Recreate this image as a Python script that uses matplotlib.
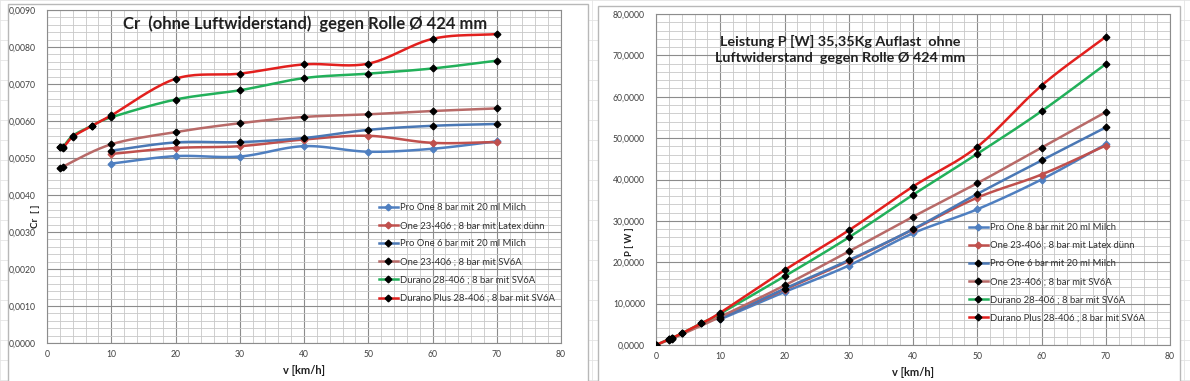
import numpy as np
import matplotlib
matplotlib.use("Agg")
import matplotlib.pyplot as plt
from matplotlib.ticker import MultipleLocator, FuncFormatter
from matplotlib.lines import Line2D
from matplotlib.patches import Rectangle

plt.rcParams['font.family'] = ['Lato', 'DejaVu Sans']

## Data
labels = ["Pro One 8 bar mit 20 ml Milch",
          "One 23-406 ; 8 bar mit Latex dünn",
          "Pro One 6 bar mit 20 ml Milch",
          "One 23-406 ; 8 bar mit SV6A",
          "Durano 28-406 ; 8 bar mit SV6A",
          "Durano Plus 28-406 ; 8 bar mit SV6A"]

# Cr values (left chart)
v_cr_pro8 = [10, 20, 30, 40, 50, 60, 70]
cr_pro8 = [0.00485, 0.00505, 0.00504, 0.00532, 0.00517, 0.00525, 0.00545]
v_cr_latex = [10, 20, 30, 40, 50, 60, 70]
cr_latex = [0.00511, 0.00527, 0.00532, 0.00550, 0.00560, 0.00541, 0.00543]
v_cr_pro6 = [10, 20, 30, 40, 50, 60, 70]
cr_pro6 = [0.00520, 0.00542, 0.00543, 0.00554, 0.00576, 0.00587, 0.00592]
v_cr_sv6a = [2, 2.5, 10, 20, 30, 40, 50, 60, 70]
cr_sv6a = [0.00474, 0.00477, 0.00537, 0.00570, 0.00594, 0.00611, 0.00618, 0.00627, 0.00634]
v_cr_durano = [2, 2.5, 4, 7, 10, 20, 30, 40, 50, 60, 70]
cr_durano = [0.00530, 0.00530, 0.00560, 0.00587, 0.00610, 0.00658, 0.00683, 0.00716, 0.00728, 0.00742, 0.00763]
v_cr_plus = [2, 2.5, 4, 7, 10, 20, 30, 40, 50, 60, 70]
cr_plus = [0.00530, 0.00528, 0.00557, 0.00587, 0.00615, 0.00714, 0.00728, 0.00753, 0.00755, 0.00822, 0.00835]

# Power values (right chart)
v_p_pro8 = [10, 20, 30, 40, 50, 60, 70]
p_pro8 = [6.2, 12.8, 19.2, 27.0, 32.8, 40.0, 48.5]
v_p_latex = [10, 20, 30, 40, 50, 60, 70]
p_latex = [6.5, 13.4, 20.3, 27.9, 35.6, 41.2, 48.2]
v_p_pro6 = [10, 20, 30, 40, 50, 60, 70]
p_pro6 = [6.4, 13.6, 20.5, 28.0, 36.5, 44.6, 52.6]
v_p_sv6a = [0, 2, 2.5, 10, 20, 30, 40, 50, 60, 70]
p_sv6a = [0.0, 1.2, 1.5, 6.8, 14.4, 22.6, 31.0, 39.1, 47.7, 56.3]
v_p_durano = [0, 2, 2.5, 4, 7, 10, 20, 30, 40, 50, 60, 70]
p_durano = [0.0, 1.35, 1.7, 2.8, 5.2, 7.6, 16.6, 26.0, 36.3, 46.2, 56.5, 67.9]
v_p_plus = [0, 2, 2.5, 4, 7, 10, 20, 30, 40, 50, 60, 70]
p_plus = [0.0, 1.35, 1.7, 2.8, 5.2, 7.8, 18.1, 27.7, 38.3, 47.9, 62.7, 74.5]

## Styles
colors = ['#4F7FC0', '#C0504D', '#4A78B5', '#B86A68', '#22B05A', '#E2201E']
mcolors = ['#4F7FC0', '#C0504D', 'black', 'black', 'black', 'black']
W, H = 1190, 381


def smooth(x, y, n=20):
    # Catmull-Rom curve through the points, like Excel smoothed lines
    x = np.asarray(x, float)
    y = np.asarray(y, float)
    px = np.concatenate([[2 * x[0] - x[1]], x, [2 * x[-1] - x[-2]]])
    py = np.concatenate([[2 * y[0] - y[1]], y, [2 * y[-1] - y[-2]]])
    xs, ys = [], []
    t = np.linspace(0, 1, n, endpoint=False)
    for i in range(1, len(px) - 2):
        for arr, out in ((px, xs), (py, ys)):
            p0, p1, p2, p3 = arr[i - 1], arr[i], arr[i + 1], arr[i + 2]
            out.extend(0.5 * ((2 * p1) + (-p0 + p2) * t
                              + (2 * p0 - 5 * p1 + 4 * p2 - p3) * t ** 2
                              + (-p0 + 3 * p1 - 3 * p2 + p3) * t ** 3))
    xs.append(x[-1])
    ys.append(y[-1])
    return np.array(xs), np.array(ys)


def comma_fmt(decimals):
    return FuncFormatter(lambda val, pos: f"{val:.{decimals}f}".replace('.', ','))


def style_axes(ax, ymax, ymajor, yminor, decimals):
    ax.set_xlim(0, 80)
    ax.set_ylim(0, ymax)
    ax.xaxis.set_major_locator(MultipleLocator(10))
    ax.xaxis.set_minor_locator(MultipleLocator(2))
    ax.yaxis.set_major_locator(MultipleLocator(ymajor))
    ax.yaxis.set_minor_locator(MultipleLocator(yminor))
    ax.yaxis.set_major_formatter(comma_fmt(decimals))
    ax.xaxis.set_major_formatter(FuncFormatter(lambda val, pos: f"{val:.0f}"))
    ax.grid(which='major', color='#8c8c8c', lw=0.8)
    ax.grid(which='minor', color='#c8c8c8', lw=0.6)
    ax.set_axisbelow(True)
    ax.tick_params(which='both', length=0, labelsize=6.2, labelcolor='#404040')
    ax.tick_params(axis='y', pad=8)
    ax.tick_params(axis='x', pad=5)
    for s in ax.spines.values():
        s.set_color('#8c8c8c')
        s.set_linewidth(0.8)


def draw_series(ax, series):
    for (vx, vy), c, mc in zip(series, colors, mcolors):
        sx, sy = smooth(vx, vy)
        ax.plot(sx, sy, color=c, lw=1.8, zorder=3)
        ax.plot(vx, vy, ls='none', marker='D', ms=3.4, color=mc, zorder=4)


def add_legend(ax, x, y):
    handles = [Line2D([0], [0], color=c, lw=1.8, marker='D', ms=3.4,
                      markerfacecolor=mc, markeredgecolor=mc)
               for c, mc in zip(colors, mcolors)]
    leg = ax.legend(handles, labels, loc='upper left', bbox_to_anchor=(x, y),
                    frameon=False, fontsize=6.8, labelspacing=0.97,
                    handlelength=2.0, handletextpad=0.2, borderpad=0, borderaxespad=0)
    for t in leg.get_texts():
        t.set_color('#303030')


fig = plt.figure(figsize=(W / 100, H / 100), dpi=100)
fig.patch.set_facecolor('white')

# faint spreadsheet cells behind the charts
for yy in range(0, H, 20):
    fig.add_artist(Line2D([0, 1], [1 - yy / H] * 2, transform=fig.transFigure,
                          color='#e4e4e4', lw=0.6, zorder=-5))
for xx in [0, 592, 1184]:
    fig.add_artist(Line2D([xx / W] * 2, [0, 1], transform=fig.transFigure,
                          color='#e4e4e4', lw=0.6, zorder=-5))

# chart area frames
fig.add_artist(Rectangle((8 / W, -0.01), 580 / W, 1.0, transform=fig.transFigure,
                         fc='white', ec='#b8b8b8', lw=1.0, zorder=-4))
fig.add_artist(Rectangle((598 / W, -0.01), 582 / W, 1.0 - 2 / H, transform=fig.transFigure,
                         fc='white', ec='#b8b8b8', lw=1.0, zorder=-4))

ax1 = fig.add_axes([47 / W, 1 - 343 / H, 514 / W, 333 / H])
style_axes(ax1, 0.009, 0.001, 0.0002, 4)
draw_series(ax1, [(v_cr_pro8, cr_pro8), (v_cr_latex, cr_latex), (v_cr_pro6, cr_pro6),
                  (v_cr_sv6a, cr_sv6a), (v_cr_durano, cr_durano), (v_cr_plus, cr_plus)])
ax1.text(0.502, 0.958, "Cr  (ohne Luftwiderstand)  gegen Rolle Ø 424 mm",
         transform=ax1.transAxes, ha='center', va='center', fontsize=12,
         fontweight='bold', color='#202020')
ax1.set_xlabel("v [km/h]", fontsize=8, fontweight='bold', color='#202020', labelpad=4)
fig.text(35 / W, 1 - 216 / H, "Cr  [ ]", rotation=90, ha='center', va='center',
         fontsize=7, fontweight='bold', color='#202020')
add_legend(ax1, 0.646, 0.42)

ax2 = fig.add_axes([656 / W, 1 - 345 / H, 514 / W, 331 / H])
style_axes(ax2, 80, 10, 2, 4)
draw_series(ax2, [(v_p_pro8, p_pro8), (v_p_latex, p_latex), (v_p_pro6, p_pro6),
                  (v_p_sv6a, p_sv6a), (v_p_durano, p_durano), (v_p_plus, p_plus)])
ax2.text(0.358, 0.894, "Leistung P [W] 35,35Kg Auflast  ohne\nLuftwiderstand  gegen Rolle Ø 424 mm",
         transform=ax2.transAxes, ha='center', va='center', fontsize=10.4,
         fontweight='bold', color='#202020', linespacing=1.39)
ax2.set_xlabel("v [km/h]", fontsize=8, fontweight='bold', color='#202020', labelpad=4)
fig.text(630 / W, 1 - 242 / H, "P [ W ]", rotation=90, ha='center', va='center',
         fontsize=6.8, fontweight='bold', color='#202020')
add_legend(ax2, 0.609, 0.369)

fig.savefig("out.png", dpi=100, facecolor='white')
